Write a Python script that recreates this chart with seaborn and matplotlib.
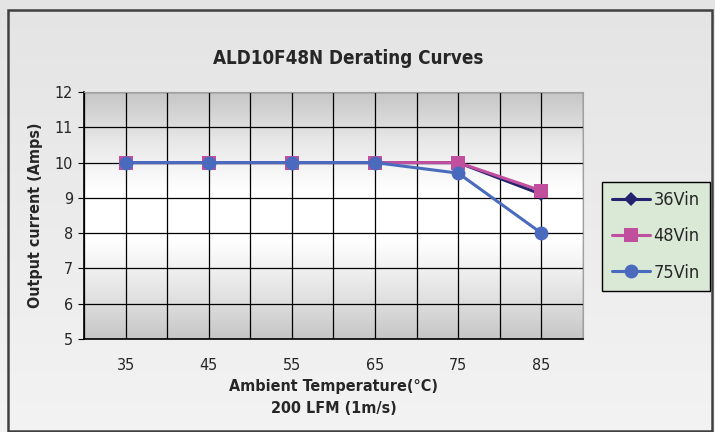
import numpy as np
import pandas as pd
import matplotlib
matplotlib.use('Agg')
import matplotlib.pyplot as plt
from matplotlib.patches import Rectangle
import seaborn as sns

sns.set_style('white')
plt.rcParams['font.family'] = ['DejaVu Sans']
plt.rcParams['font.stretch'] = 'condensed'

# data
temps = ['35', '45', '55', '65', '75', '85']
v36 = [10, 10, 10, 10, 10, 9.1]
v48 = [10, 10, 10, 10, 10, 9.2]
v75 = [10, 10, 10, 10, 9.7, 8.0]
series = ['36Vin', '48Vin', '75Vin']

df = pd.DataFrame({
    'temp': temps * 3,
    'amps': v36 + v48 + v75,
    'vin': sum([[s] * len(temps) for s in series], []),
})

colors = {'36Vin': '#23236e', '48Vin': '#c04f9e', '75Vin': '#4a6bbd'}
markers = {'36Vin': 'D', '48Vin': 's', '75Vin': 'o'}
msizes = {'36Vin': 7.5, '48Vin': 9.5, '75Vin': 10}

fig = plt.figure(figsize=(7.15, 4.32), dpi=100)

# figure background gradient
bg = fig.add_axes([0, 0, 1, 1], zorder=-10)
grad = np.linspace(0, 1, 256).reshape(-1, 1)
bg.imshow(grad, aspect='auto', cmap=matplotlib.colors.LinearSegmentedColormap.from_list(
    'fbg', ['#e4e4e4', '#f3f3f3']), extent=[0, 1, 0, 1], origin='upper')
bg.set_axis_off()
fig.patches.append(Rectangle((8 / 715, 1 / 432), 704 / 715, 421 / 432, transform=fig.transFigure,
                             fill=False, edgecolor='#404040', linewidth=1.8, zorder=5))

ax = fig.add_axes([84 / 715, 93 / 432, 499 / 715, 247 / 432])
pcm = matplotlib.colors.LinearSegmentedColormap.from_list(
    'pbg', ['#c6c6c6', '#e8e8e8', '#ffffff', '#ffffff', '#e6e6e6', '#c6c6c6'])
ax.imshow(np.linspace(0, 1, 256).reshape(-1, 1), aspect='auto', cmap=pcm,
          extent=[-0.5, 5.5, 5, 12], origin='upper', zorder=0)

for s in series:
    sns.lineplot(data=df[df['vin'] == s], x='temp', y='amps', color=colors[s],
                 marker=markers[s], linewidth=2.2, markersize=msizes[s],
                 markeredgewidth=0, ax=ax, zorder=3, label=s)

ax.set_xlim(-0.5, 5.5)
ax.set_ylim(5, 12)
ax.set_yticks(range(5, 13))
ax.xaxis.remove_overlapping_locs = False
ax.set_xticks(np.arange(-0.5, 5.6, 0.5), minor=True)
ax.grid(True, which='minor', axis='x', color='black', linewidth=0.9, zorder=1)
ax.grid(True, which='major', axis='y', color='black', linewidth=0.9, zorder=1)
ax.set_axisbelow(True)
ax.tick_params(axis='x', which='major', length=0, labelsize=11.5, pad=14)
ax.tick_params(axis='x', which='minor', length=3, direction='out', color='black')
ax.tick_params(axis='y', length=4, direction='out', color='black', left=True, labelsize=11.5, pad=4)
for s in ['left', 'bottom']:
    ax.spines[s].set_color('black')
    ax.spines[s].set_linewidth(1.2)
for s in ['top', 'right']:
    ax.spines[s].set_color('#a0a0a0')

ax.set_xlabel('Ambient Temperature(\u00b0C)\n200 LFM (1m/s)', fontsize=11.5,
              fontweight='bold', labelpad=4, linespacing=1.6)
ax.set_ylabel('Output current (Amps)', fontsize=11.5, fontweight='bold', labelpad=8)
ax.set_title('ALD10F48N Derating Curves', fontsize=13.5, fontweight='bold', pad=20,
             x=0.53)

leg = ax.legend(loc='center left', bbox_to_anchor=(1.038, 0.415), frameon=True,
                fontsize=13, handlelength=2.1, borderpad=0.55, labelspacing=1.0,
                handletextpad=0.2, borderaxespad=0, fancybox=False)
leg.get_frame().set_facecolor('#dae8d6')
leg.get_frame().set_edgecolor('black')
leg.get_frame().set_linewidth(1.0)
leg.get_frame().set_alpha(1)

fig.savefig('out.png', dpi=100)
